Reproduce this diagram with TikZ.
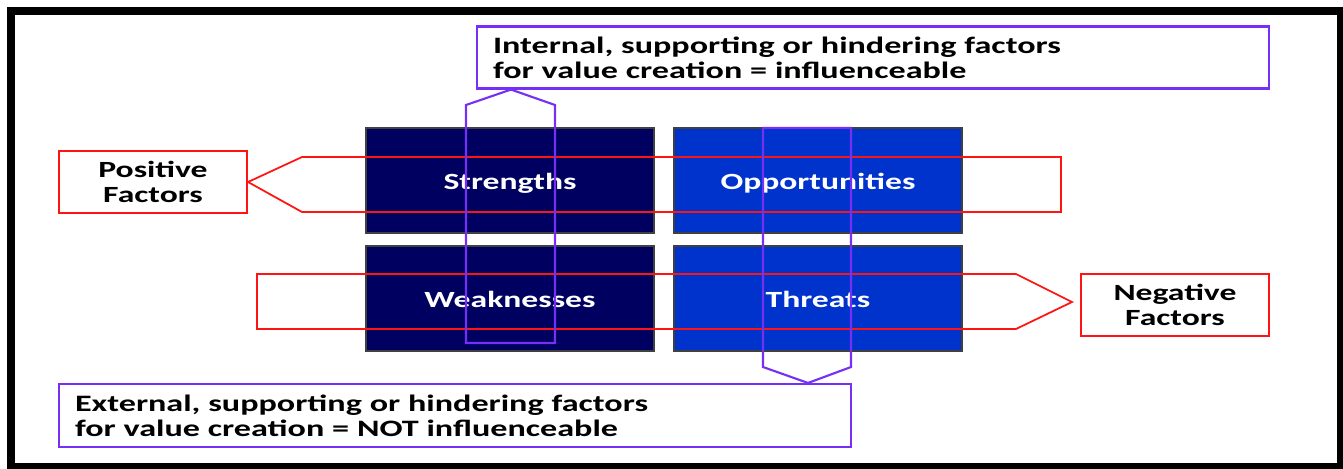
\documentclass[tikz,border=0pt]{standalone}
\usepackage{fontspec}
\setmainfont{Carlito}[FakeStretch=1.45]
\usetikzlibrary{positioning}
\definecolor{innerblue}{RGB}{0,0,96}
\definecolor{outerblue}{RGB}{0,51,204}
\definecolor{factorred}{RGB}{255,20,20}
\definecolor{scopeviolet}{RGB}{118,48,245}

\begin{document}
\begin{tikzpicture}[
    x=0.02cm, y=-0.02cm,
    swot/.style={draw=black!75, line width=0.8pt, minimum width=5.76cm, minimum height=2.1cm, inner sep=0pt, text height=10pt, text depth=0pt, text=white, font=\fontsize{13.2}{15}\selectfont\bfseries},
    factor/.style={draw=factorred, line width=1.2pt, minimum width=3.76cm, minimum height=1.24cm, inner sep=0pt, align=center, font=\fontsize{13.2}{14.5}\selectfont\bfseries},
    scopebox/.style={draw=scopeviolet, line width=1.2pt, text width=15.2cm, inner xsep=0.32cm, inner ysep=0pt, minimum height=1.24cm, align=left, font=\fontsize{13.4}{14.2}\selectfont\bfseries},
    redline/.style={draw=factorred, line width=1pt, line join=miter},
    violetline/.style={draw=scopeviolet, line width=1.2pt, line join=miter}
]
    \useasboundingbox (0,0) rectangle (1343,468);

    % Frame
    \draw[line width=0.16cm] (11,11) rectangle (1341,467);

    % SWOT fields
    \node[swot, fill=innerblue] (str) at (510,180.5) {Strengths};
    \node[swot, fill=outerblue] (opp) at (818,180.5) {Opportunities};
    \node[swot, fill=innerblue] (wea) at (510,298.5) {Weaknesses};
    \node[swot, fill=outerblue] (thr) at (818,298.5) {Threats};

    % Factor labels
    \node[factor] (pos) at (153,182) {Positive\\Factors};
    \node[factor] (neg) at (1175,305) {Negative\\Factors};

    % Internal / external labels
    \node[scopebox] (int) at (873,57.5) {Internal, supporting or hindering factors\\for value creation = influenceable};
    \node[scopebox, minimum height=1.26cm] (ext) at (455,415.5) {External, supporting or hindering factors\\for value creation = NOT influenceable};

    % Pointers
    \coordinate (negtip) at (1072,302);
    \draw[redline] (pos.east) -- (302,157) -- (1061,157) -- (1061,212) -- (302,212) -- cycle;
    \draw[redline] (257,274) -- (1016,274) -- (negtip) -- (1016,329) -- (257,329) -- cycle;
    \draw[violetline] (466,343) -- (466,105) -- (int.south -| 511,0) -- (555,105) -- (555,343) -- cycle;
    \draw[violetline] (763,128) -- (851,128) -- (851,367) -- (ext.north -| 808,0) -- (763,367) -- cycle;
\end{tikzpicture}
\end{document}
